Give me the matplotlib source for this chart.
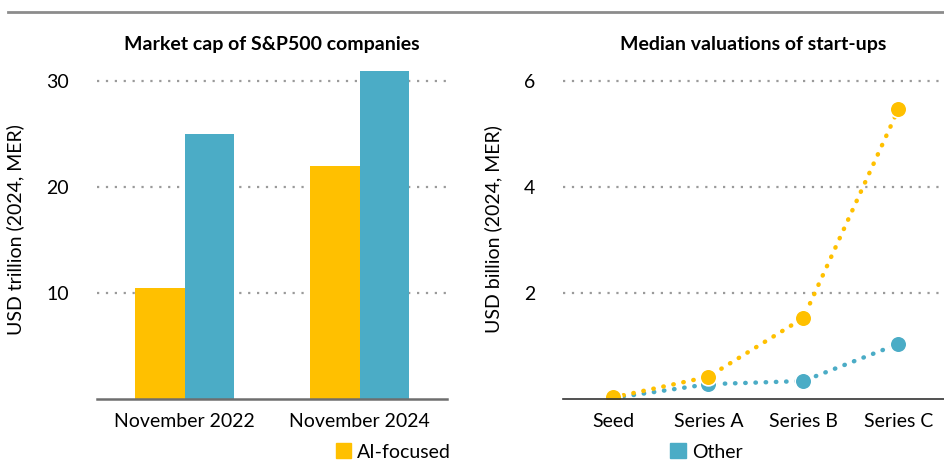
import matplotlib
matplotlib.use("Agg")
import matplotlib.pyplot as plt
from matplotlib.patches import Patch

plt.rcParams["font.family"] = ["Lato", "DejaVu Sans"]

# data
dates = ["November 2022", "November 2024"]
cap_ai = [10.5, 22.0]
cap_other = [25.0, 31.0]

stages = ["Seed", "Series A", "Series B", "Series C"]
val_ai = [0.03, 0.42, 1.53, 5.47]
val_other = [0.02, 0.28, 0.34, 1.04]

YELLOW = "#FFC000"
TEAL = "#4BACC6"
GRID = "#9a9a9a"
FS = 14

fig = plt.figure(figsize=(9.44, 4.62), dpi=100)
fig.add_artist(plt.Line2D([8 / 944, 1.0], [1 - 12 / 462, 1 - 12 / 462],
                          transform=fig.transFigure, color="#8c8c8c", lw=2))

ax1 = fig.add_axes([97 / 944, 63 / 462, 350 / 944, 339 / 462])
ax2 = fig.add_axes([563 / 944, 63 / 462, 381 / 944, 339 / 462])

# left: bars
w = 0.285
xs = range(len(dates))
ax1.bar([x - w / 2 for x in xs], cap_ai, width=w, color=YELLOW, zorder=3)
ax1.bar([x + w / 2 for x in xs], cap_other, width=w, color=TEAL, zorder=3)
ax1.set_xlim(-0.5, 1.5)
ax1.set_ylim(0, 32)
ax1.set_yticks([10, 20, 30])
ax1.set_xticks(list(xs))
ax1.set_xticklabels(dates)
ax1.set_ylabel("USD trillion (2024, MER)", fontsize=FS, labelpad=16)
ax1.set_title("Market cap of S&P500 companies", fontsize=FS, fontweight="bold", pad=7)

# right: lines
ax2.plot(stages, val_ai, color=YELLOW, lw=3.2, ls=(0, (0.1, 2.2)), dash_capstyle="round",
         marker="o", ms=12, mec="white", mew=1.2, zorder=4)
ax2.plot(stages, val_other, color=TEAL, lw=3.2, ls=(0, (0.1, 2.2)), dash_capstyle="round",
         marker="o", ms=12, mec="white", mew=1.2, zorder=3)
ax2.set_xlim(-0.53, 3.48)
ax2.set_ylim(0, 6.4)
ax2.set_yticks([2, 4, 6])
ax2.set_ylabel("USD billion (2024, MER)", fontsize=FS, labelpad=16)
ax2.set_title("Median valuations of start-ups", fontsize=FS, fontweight="bold", pad=7)

for ax in (ax1, ax2):
    for s in ("top", "right", "left"):
        ax.spines[s].set_visible(False)
    ax.spines["bottom"].set_color("#6e6e6e")
    ax.spines["bottom"].set_linewidth(1.8)
    ax.spines["bottom"].set_zorder(5)
    ax.yaxis.grid(True, color=GRID, ls=(0, (1, 3)), lw=1.6)
    ax.set_axisbelow(True)
    ax.tick_params(axis="both", length=0, labelsize=FS, colors="black")
    ax.tick_params(axis="y", pad=20)
    ax.tick_params(axis="x", pad=10)
ax2.spines["bottom"].set_color("#333333")
ax2.spines["bottom"].set_linewidth(1.2)

fig.legend(handles=[Patch(color=YELLOW, label="AI-focused"), Patch(color=TEAL, label="Other")],
           loc="lower left", bbox_to_anchor=(318 / 944, -0.035), ncol=2, frameon=False,
           fontsize=FS, handlelength=0.8, handleheight=0.8, handletextpad=0.3,
           columnspacing=11.3)

fig.savefig("out.png", dpi=100, facecolor="white")
